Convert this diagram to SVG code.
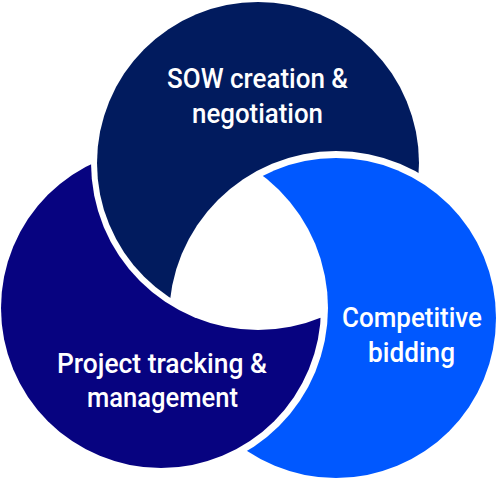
<svg xmlns="http://www.w3.org/2000/svg" width="500" height="481" viewBox="0 0 500 481">
<style>
.lbl{font-family:Roboto,"Liberation Sans",sans-serif;font-weight:500;font-size:28px;fill:#ffffff;text-anchor:middle}
</style>
<defs>
<mask id="mT" maskUnits="userSpaceOnUse" x="0" y="0" width="500" height="481">
<rect x="0" y="0" width="500" height="481" fill="#fff"/>
<circle cx="336" cy="318" r="167" fill="#000"/>
</mask>
<mask id="mL" maskUnits="userSpaceOnUse" x="0" y="0" width="500" height="481">
<rect x="0" y="0" width="500" height="481" fill="#fff"/>
<circle cx="258" cy="163" r="167" fill="#000"/>
</mask>
<mask id="mR" maskUnits="userSpaceOnUse" x="0" y="0" width="500" height="481">
<rect x="0" y="0" width="500" height="481" fill="#fff"/>
<circle cx="161" cy="308" r="167" fill="#000"/>
</mask>
</defs>
<rect width="500" height="481" fill="#ffffff"/>
<g id="node-sow">
<circle cx="258" cy="163" r="161" fill="#011b5e" mask="url(#mT)"/>
<text class="lbl" x="257.5" y="88" textLength="181" lengthAdjust="spacingAndGlyphs">SOW creation &amp;</text>
<text class="lbl" x="257.5" y="123" textLength="131" lengthAdjust="spacingAndGlyphs">negotiation</text>
</g>
<g id="node-tracking">
<circle cx="161" cy="308" r="160" fill="#070380" mask="url(#mL)"/>
<text class="lbl" x="162" y="373" textLength="210" lengthAdjust="spacingAndGlyphs">Project tracking &amp;</text>
<text class="lbl" x="162.5" y="407" textLength="151" lengthAdjust="spacingAndGlyphs">management</text>
</g>
<g id="node-bidding">
<circle cx="336" cy="318" r="160" fill="#0058ff" mask="url(#mR)"/>
<text class="lbl" x="412" y="327" textLength="140" lengthAdjust="spacingAndGlyphs">Competitive</text>
<text class="lbl" x="411.5" y="362" textLength="87" lengthAdjust="spacingAndGlyphs">bidding</text>
</g>
<g id="connectors"/>
</svg>
